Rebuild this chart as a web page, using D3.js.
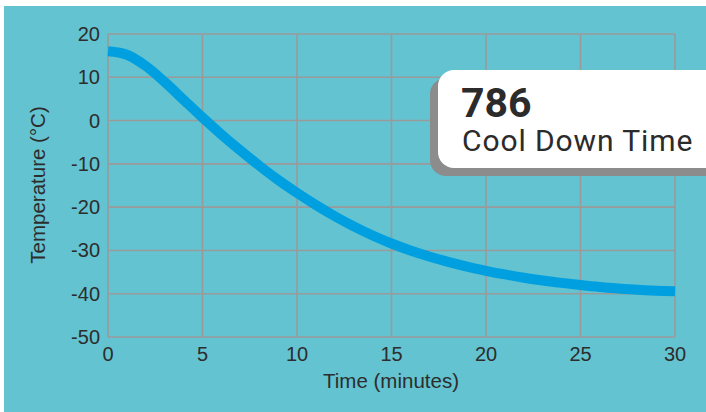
<!DOCTYPE html>
<html><head><meta charset="utf-8">
<script src="https://cdn.jsdelivr.net/npm/d3@7"></script>
<style>html,body{margin:0;padding:0;background:#fff;}svg{display:block;}</style>
</head><body>
<svg id="c" width="706" height="412"></svg>
<script>
const times = [0,1,2,3,4,5,6,7,8,9,10,11,12,13,14,15,16,17,18,19,20,21,22,23,24,25,26,27,28,29,30];
const temps = [16,15.2,12.6,8.9,4.8,0.7,-3.2,-6.9,-10.4,-13.7,-16.7,-19.5,-22.1,-24.45,-26.55,-28.4,-30.0,-31.4,-32.65,-33.75,-34.7,-35.55,-36.3,-36.95,-37.5,-38.0,-38.45,-38.8,-39.1,-39.3,-39.45];
const xTicks = [0,5,10,15,20,25,30];
const yTicks = [20,10,0,-10,-20,-30,-40,-50];
const kpiValue = "786";
const kpiLabel = "Cool Down Time";
const xTitle = "Time (minutes)";
const yTitle = "Temperature (°C)";

const svg = d3.select("#c");
svg.append("rect").attr("x",4).attr("y",6).attr("width",702).attr("height",406).attr("fill","#63c3d0");

const x = d3.scaleLinear().domain([0,30]).range([108,675]);
const y = d3.scaleLinear().domain([-50,20]).range([337,34]);
const font = "'Liberation Sans', Arial, sans-serif";
const grid = "#9a9a9a";

const g = svg.append("g");
g.selectAll("line.v").data(xTicks).join("line")
  .attr("x1",d=>x(d)).attr("x2",d=>x(d)).attr("y1",y(20)).attr("y2",y(-50))
  .attr("stroke",grid).attr("stroke-width",1.6);
g.selectAll("line.h").data(yTicks).join("line")
  .attr("y1",d=>y(d)).attr("y2",d=>y(d)).attr("x1",x(0)).attr("x2",x(30))
  .attr("stroke",grid).attr("stroke-width",1.6);

g.selectAll("text.xt").data(xTicks).join("text")
  .attr("x",d=>x(d)).attr("y",361).attr("text-anchor","middle")
  .attr("font-family",font).attr("font-size",20).attr("fill","#2d2d2d").text(d=>d);
g.selectAll("text.yt").data(yTicks).join("text")
  .attr("x",100).attr("y",d=>y(d)).attr("dy","0.35em").attr("text-anchor","end")
  .attr("font-family",font).attr("font-size",20).attr("fill","#2d2d2d").text(d=>d);

svg.append("text").attr("x",391).attr("y",388).attr("text-anchor","middle")
  .attr("font-family",font).attr("font-size",20.5).attr("fill","#2d2d2d").text(xTitle);
svg.append("text").attr("transform","translate(45,185) rotate(-90)").attr("text-anchor","middle")
  .attr("font-family",font).attr("font-size",20.5).attr("fill","#2d2d2d").text(yTitle);

const line = d3.line().x((d,i)=>x(times[i])).y(d=>y(d)).curve(d3.curveCatmullRom);
svg.append("path").attr("d",line(temps)).attr("fill","none")
  .attr("stroke","#00a0e0").attr("stroke-width",10).attr("stroke-linecap","butt");

// KPI card
svg.append("rect").attr("x",430).attr("y",78).attr("width",320).attr("height",98).attr("rx",16).attr("fill","#8c8c8c");
svg.append("rect").attr("x",438).attr("y",70).attr("width",320).attr("height",98).attr("rx",16).attr("fill","#ffffff");
svg.append("text").attr("x",461).attr("y",117).attr("font-family","Roboto, sans-serif").attr("font-weight",700)
  .attr("font-size",41).attr("fill","#2b2b2b").text(kpiValue);
svg.append("text").attr("x",462).attr("y",151).attr("font-family","Roboto, sans-serif")
  .attr("font-size",30).attr("letter-spacing",0.9).attr("fill","#2b2b2b").text(kpiLabel);
</script>
</body></html>
